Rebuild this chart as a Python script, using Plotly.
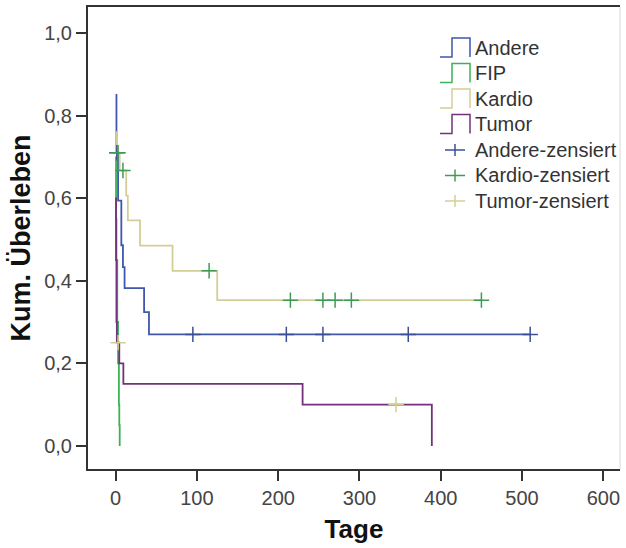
import plotly.graph_objects as go

# ---- data ----
groups = ["Andere", "FIP", "Kardio", "Tumor"]

andere_t = [0, 1, 3, 7, 9, 11, 35, 41, 510]
andere_s = [0.85, 0.71, 0.594, 0.486, 0.433, 0.382, 0.324, 0.270, 0.270]

fip_t = [0, 0.5, 1, 2, 3, 4, 4.5, 5]
fip_s = [0.70, 0.55, 0.45, 0.30, 0.20, 0.10, 0.05, 0.0]

kardio_t = [0, 1, 5, 13, 15, 30, 70, 125, 450]
kardio_s = [0.76, 0.71, 0.667, 0.606, 0.546, 0.485, 0.424, 0.353, 0.353]

tumor_t = [0, 0.5, 1, 1.5, 4.5, 9.5, 230, 389]
tumor_s = [0.60, 0.45, 0.30, 0.25, 0.20, 0.15, 0.10, 0.0]

andere_cens_t = [1.5, 95, 210, 255, 360, 510]
andere_cens_s = [0.71, 0.27, 0.27, 0.27, 0.27, 0.27]

kardio_cens_t = [3, 9, 115, 215, 255, 270, 290, 450]
kardio_cens_s = [0.71, 0.667, 0.424, 0.353, 0.353, 0.353, 0.353, 0.353]

tumor_cens_t = [3, 345]
tumor_cens_s = [0.25, 0.10]

x_ticks = [0, 100, 200, 300, 400, 500, 600]
x_ticktext = ["0", "100", "200", "300", "400", "500", "600"]
y_ticks = [0.0, 0.2, 0.4, 0.6, 0.8, 1.0]
y_ticktext = ["0,0", "0,2", "0,4", "0,6", "0,8", "1,0"]

legend_lines = ["Andere", "FIP", "Kardio", "Tumor"]
legend_cens = ["Andere-zensiert", "Kardio-zensiert", "Tumor-zensiert"]

# ---- styles ----
FONT = "Liberation Sans, Arial, sans-serif"
C_ANDERE = "#3E58AC"
C_FIP = "#3BB257"
C_KARDIO = "#D3CE97"
C_TUMOR = "#74307C"
C_CENS_A = "#3B4F96"
C_CENS_K = "#3F9A55"
C_CENS_T = "#D3CE97"
line_colors = [C_ANDERE, C_FIP, C_KARDIO, C_TUMOR]
cens_colors = [C_CENS_A, C_CENS_K, C_CENS_T]

W, H = 626, 548
L, R, T, B = 88, 6, 7, 79
PW, PH = W - L - R, H - T - B

fig = go.Figure()
for name, t, s, c in [("Andere", andere_t, andere_s, C_ANDERE),
                      ("FIP", fip_t, fip_s, C_FIP),
                      ("Kardio", kardio_t, kardio_s, C_KARDIO),
                      ("Tumor", tumor_t, tumor_s, C_TUMOR)]:
    fig.add_trace(go.Scatter(x=t, y=s, mode="lines", name=name,
                             line=dict(color=c, width=1.8, shape="hv"),
                             showlegend=False))

for name, t, s, c in [("Andere-zensiert", andere_cens_t, andere_cens_s, C_CENS_A),
                      ("Kardio-zensiert", kardio_cens_t, kardio_cens_s, C_CENS_K),
                      ("Tumor-zensiert", tumor_cens_t, tumor_cens_s, C_CENS_T)]:
    fig.add_trace(go.Scatter(x=t, y=s, mode="markers", name=name,
                             marker=dict(symbol="cross-thin", size=11,
                                         line=dict(color=c, width=1.5)),
                             showlegend=False))

# ---- manual legend (SPSS-like step icons) ----
def px2paper(px, py):
    return (px - L) / PW, (H - B - py) / PH

shapes = []
annotations = []
row_h = 25.5
y0 = 48
for i, (name, c) in enumerate(zip(legend_lines, line_colors)):
    yc = y0 + i * row_h
    pts = [(440, yc + 9), (452, yc + 9), (452, yc - 10), (470, yc - 10), (470, yc + 9)]
    pp = [px2paper(a, b) for a, b in pts]
    path = "M " + " L ".join(f"{a:.5f},{b:.5f}" for a, b in pp)
    shapes.append(dict(type="path", xref="paper", yref="paper", path=path,
                       line=dict(color=c, width=1.5)))
    xa, ya = px2paper(473, yc)
    annotations.append(dict(x=xa, y=ya, xref="paper", yref="paper", text=name,
                            showarrow=False, xanchor="left", yanchor="middle",
                            font=dict(family=FONT, size=20, color="#333333")))
for j, (name, c) in enumerate(zip(legend_cens, cens_colors)):
    yc = y0 + (4 + j) * row_h
    a1 = px2paper(445, yc); a2 = px2paper(465, yc)
    b1 = px2paper(455, yc - 6); b2 = px2paper(455, yc + 6)
    shapes.append(dict(type="line", xref="paper", yref="paper", x0=a1[0], y0=a1[1],
                       x1=a2[0], y1=a2[1], line=dict(color=c, width=1.5)))
    shapes.append(dict(type="line", xref="paper", yref="paper", x0=b1[0], y0=b1[1],
                       x1=b2[0], y1=b2[1], line=dict(color=c, width=1.5)))
    xa, ya = px2paper(473, yc)
    annotations.append(dict(x=xa, y=ya, xref="paper", yref="paper", text=name,
                            showarrow=False, xanchor="left", yanchor="middle",
                            font=dict(family=FONT, size=20, color="#333333")))

# faint right border
shapes.append(dict(type="line", xref="paper", yref="paper", x0=1, x1=1, y0=0, y1=1,
                   line=dict(color="#d8d8d8", width=1)))

fig.update_layout(
    width=W, height=H,
    margin=dict(l=L, r=R, t=T, b=B, pad=0, autoexpand=False),
    paper_bgcolor="white", plot_bgcolor="white",
    font=dict(family=FONT, color="#444444"),
    shapes=shapes, annotations=annotations,
    xaxis=dict(range=[-34, 620.5], tickvals=x_ticks, ticktext=x_ticktext,
               automargin=False,
               ticks="outside", ticklen=10, tickwidth=2, tickcolor="#333333",
               showline=True, linecolor="#333333", linewidth=2, mirror=True,
               showgrid=False, zeroline=False,
               tickfont=dict(family=FONT, size=20, color="#444444"),
               title=dict(text="<b>Tage</b>", standoff=12,
                          font=dict(family=FONT, size=26, color="#111111"))),
    yaxis=dict(range=[-0.056, 1.063], tickvals=y_ticks, ticktext=y_ticktext,
               automargin=False,
               ticks="outside", ticklen=10, tickwidth=2, tickcolor="#333333",
               showline=True, linecolor="#333333", linewidth=2, mirror=False,
               showgrid=False, zeroline=False,
               tickfont=dict(family=FONT, size=20, color="#444444"),
               title=dict(text="<b>Kum. Überleben</b>", standoff=6,
                          font=dict(family=FONT, size=27, color="#111111"))),
)

fig.write_html("out.html", config={"displayModeBar": False},
               post_script="document.body.style.margin='0';document.body.style.overflow='hidden';")
